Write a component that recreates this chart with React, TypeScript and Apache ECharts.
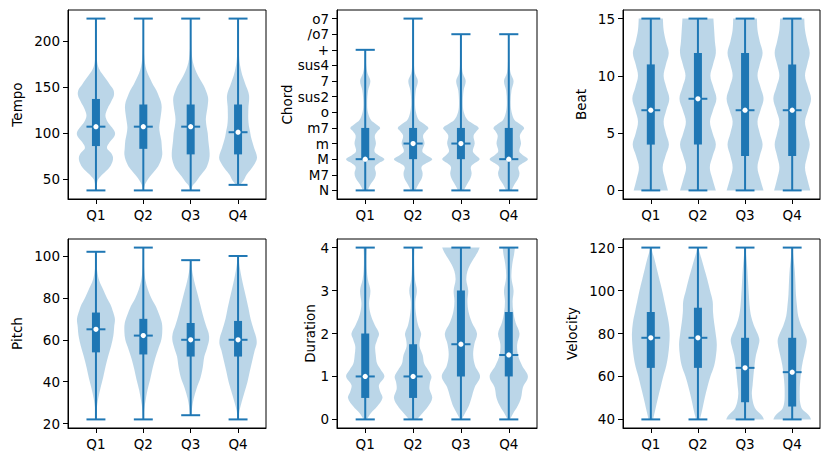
import React, { useEffect, useRef } from "react";
import * as echarts from "echarts";

const quarters = ["Q1", "Q2", "Q3", "Q4"];
const chordNames = ["N", "M7", "M", "m", "m7", "o", "sus2", "7", "sus4", "+", "/o7", "o7"];

// [min, q1, median, q3, max] per quarter
const tempoStats = [[38, 86, 107, 137, 224], [38, 83, 107, 131, 224], [38, 77, 107, 131, 224], [44, 77, 101, 131, 224]];
const chordStats = [[0, 2, 2, 4, 9], [0, 2, 3, 4, 11], [0, 2, 3, 4, 10], [0, 2, 2, 4, 10]];
const beatStats = [[0, 4, 7, 11, 15], [0, 4, 8, 12, 15], [0, 3, 7, 12, 15], [0, 3, 7, 11, 15]];
const pitchStats = [[22, 54, 65, 73, 102], [22, 53, 62, 70, 104], [24, 52, 60, 68, 98], [22, 52, 60, 69, 100]];
const durationStats = [[0, 0.5, 1, 2, 4], [0, 0.5, 1, 1.75, 4], [0, 1, 1.75, 3, 4], [0, 1, 1.5, 2.5, 4]];
const velocityStats = [[40, 64, 78, 90, 120], [40, 64, 78, 92, 120], [40, 48, 64, 78, 120], [40, 46, 62, 78, 120]];

// violin profiles: [value, relative half width]
const tempoProfiles = [
  [[38, 0.01], [45, 0.05], [50, 0.12], [56, 0.38], [62, 0.68], [68, 0.85], [74, 0.9], [79, 0.78], [84, 0.58], [90, 0.72], [97, 0.98], [101, 1.0], [106, 0.85], [112, 0.62], [119, 0.5], [127, 0.62], [134, 0.8], [141, 0.95], [147, 0.92], [153, 0.72], [158, 0.55], [165, 0.3], [172, 0.12], [180, 0.05], [195, 0.02], [224, 0.01]],
  [[38, 0.01], [44, 0.08], [48, 0.18], [53, 0.35], [58, 0.55], [64, 0.78], [70, 0.92], [77, 1.0], [84, 0.98], [92, 0.95], [99, 0.88], [106, 0.84], [113, 0.88], [120, 0.93], [128, 0.97], [134, 0.93], [140, 0.82], [146, 0.7], [152, 0.52], [158, 0.38], [165, 0.22], [172, 0.12], [180, 0.06], [195, 0.02], [224, 0.01]],
  [[38, 0.01], [43, 0.1], [47, 0.27], [51, 0.4], [55, 0.55], [60, 0.75], [65, 0.88], [72, 0.98], [78, 1.0], [85, 0.97], [92, 0.93], [100, 0.9], [107, 0.84], [115, 0.8], [122, 0.84], [130, 0.9], [138, 0.92], [145, 0.82], [151, 0.7], [158, 0.5], [166, 0.3], [173, 0.17], [180, 0.09], [190, 0.04], [205, 0.02], [224, 0.01]],
  [[44, 0.1], [47, 0.23], [51, 0.35], [55, 0.45], [60, 0.65], [65, 0.82], [70, 0.96], [74, 1.0], [79, 0.94], [84, 0.85], [90, 0.76], [96, 0.68], [102, 0.63], [108, 0.57], [115, 0.54], [122, 0.54], [129, 0.55], [135, 0.58], [141, 0.58], [146, 0.52], [151, 0.42], [157, 0.32], [163, 0.22], [170, 0.14], [177, 0.08], [190, 0.04], [224, 0.01]],
];
const chordProfiles = [
  [[0, 0.12], [0.4, 0.28], [0.8, 0.5], [1.1, 0.56], [1.5, 0.5], [1.75, 0.72], [2, 1.0], [2.25, 0.7], [2.5, 0.48], [3, 0.56], [3.5, 0.5], [3.8, 0.65], [4, 0.78], [4.25, 0.55], [4.5, 0.3], [5, 0.14], [5.6, 0.1], [6.4, 0.15], [7, 0.27], [7.5, 0.12], [8, 0.05], [8.5, 0.03], [9, 0.02]],
  [[0, 0.12], [0.4, 0.28], [0.8, 0.46], [1.1, 0.5], [1.5, 0.44], [1.75, 0.7], [2, 1.0], [2.25, 0.7], [2.5, 0.48], [3, 0.6], [3.5, 0.52], [3.8, 0.68], [4, 0.8], [4.25, 0.58], [4.5, 0.3], [5, 0.15], [5.6, 0.1], [6.4, 0.14], [7, 0.25], [7.5, 0.1], [8, 0.05], [9, 0.03], [10, 0.02], [11, 0.01]],
  [[0, 0.15], [0.4, 0.32], [0.8, 0.5], [1.1, 0.56], [1.5, 0.52], [1.75, 0.72], [2, 0.98], [2.25, 0.78], [2.5, 0.62], [3, 0.72], [3.5, 0.66], [3.8, 0.82], [4, 0.93], [4.25, 0.65], [4.5, 0.35], [5, 0.15], [5.6, 0.1], [6.4, 0.14], [7, 0.25], [7.5, 0.1], [8, 0.05], [9, 0.03], [10, 0.02]],
  [[0, 0.14], [0.4, 0.3], [0.8, 0.5], [1.1, 0.56], [1.5, 0.5], [1.75, 0.74], [2, 1.0], [2.25, 0.74], [2.5, 0.55], [3, 0.64], [3.5, 0.58], [3.8, 0.7], [4, 0.8], [4.25, 0.58], [4.5, 0.3], [5, 0.15], [5.6, 0.1], [6.4, 0.14], [7, 0.25], [7.5, 0.1], [8, 0.05], [9, 0.03], [10, 0.02]],
];
const beatProfiles = [
  [[0, 0.91], [1, 0.75], [2, 0.63], [3, 0.78], [4, 0.96], [5, 0.8], [6, 0.68], [7, 0.82], [8, 0.98], [9, 0.82], [10, 0.68], [11, 0.8], [12, 0.95], [13, 0.8], [14, 0.68], [15, 0.64]],
  [[0, 0.95], [1, 0.77], [2, 0.63], [3, 0.78], [4, 0.95], [5, 0.78], [6, 0.64], [7, 0.8], [8, 0.98], [9, 0.82], [10, 0.66], [11, 0.8], [12, 0.95], [13, 0.9], [14, 0.86], [15, 0.82]],
  [[0, 0.98], [1, 0.8], [2, 0.66], [3, 0.78], [4, 0.93], [5, 0.78], [6, 0.66], [7, 0.82], [8, 0.98], [9, 0.82], [10, 0.66], [11, 0.78], [12, 0.93], [13, 0.78], [14, 0.66], [15, 0.63]],
  [[0, 0.96], [1, 0.8], [2, 0.68], [3, 0.8], [4, 0.93], [5, 0.8], [6, 0.68], [7, 0.84], [8, 1.0], [9, 0.84], [10, 0.68], [11, 0.8], [12, 0.93], [13, 0.8], [14, 0.68], [15, 0.64]],
];
const pitchProfiles = [
  [[22, 0.01], [27, 0.04], [32, 0.12], [37, 0.24], [42, 0.38], [47, 0.5], [52, 0.64], [57, 0.8], [62, 0.92], [66, 0.96], [70, 1.0], [74, 0.88], [77, 0.76], [80, 0.58], [84, 0.38], [88, 0.18], [92, 0.08], [96, 0.03], [102, 0.01]],
  [[22, 0.01], [27, 0.05], [31, 0.12], [36, 0.22], [41, 0.36], [46, 0.48], [51, 0.62], [56, 0.8], [60, 0.95], [64, 1.0], [68, 0.98], [72, 0.84], [76, 0.66], [80, 0.42], [84, 0.24], [88, 0.12], [93, 0.05], [98, 0.02], [104, 0.01]],
  [[24, 0.03], [28, 0.08], [32, 0.16], [37, 0.32], [42, 0.52], [47, 0.64], [52, 0.72], [56, 0.86], [60, 0.97], [63, 0.95], [67, 0.8], [72, 0.64], [77, 0.5], [82, 0.36], [86, 0.24], [90, 0.14], [94, 0.06], [98, 0.02]],
  [[22, 0.02], [26, 0.07], [30, 0.18], [35, 0.34], [40, 0.5], [45, 0.62], [50, 0.75], [55, 0.88], [58, 0.98], [61, 0.96], [65, 0.82], [70, 0.66], [75, 0.55], [80, 0.43], [85, 0.3], [90, 0.18], [94, 0.1], [97, 0.05], [100, 0.02]],
];
const durationProfiles = [
  [[0, 0.08], [0.15, 0.3], [0.3, 0.62], [0.5, 0.9], [0.65, 0.78], [0.8, 0.72], [1.0, 1.0], [1.15, 0.82], [1.3, 0.62], [1.5, 0.55], [1.7, 0.52], [1.85, 0.62], [2.0, 0.72], [2.2, 0.5], [2.45, 0.28], [2.7, 0.2], [3.0, 0.27], [3.25, 0.14], [3.5, 0.08], [3.8, 0.07], [4.0, 0.09]],
  [[0, 0.2], [0.15, 0.5], [0.3, 0.78], [0.5, 1.0], [0.7, 0.86], [0.85, 0.88], [1.0, 0.96], [1.15, 0.78], [1.3, 0.58], [1.5, 0.5], [1.7, 0.34], [1.85, 0.36], [2.0, 0.42], [2.2, 0.26], [2.5, 0.14], [2.75, 0.12], [3.0, 0.2], [3.25, 0.1], [3.5, 0.06], [3.8, 0.05], [4.0, 0.07]],
  [[0, 0.04], [0.15, 0.22], [0.3, 0.4], [0.5, 0.55], [0.75, 0.72], [1.0, 1.0], [1.25, 0.74], [1.5, 0.64], [1.75, 0.7], [2.0, 0.84], [2.25, 0.58], [2.5, 0.4], [2.75, 0.34], [3.0, 0.38], [3.25, 0.28], [3.45, 0.34], [3.6, 0.48], [3.75, 0.68], [3.9, 0.88], [4.0, 0.98]],
  [[0, 0.06], [0.15, 0.24], [0.3, 0.45], [0.5, 0.64], [0.75, 0.74], [1.0, 1.0], [1.25, 0.7], [1.5, 0.48], [1.75, 0.44], [2.0, 0.56], [2.25, 0.36], [2.5, 0.24], [2.75, 0.2], [3.0, 0.25], [3.3, 0.14], [3.6, 0.18], [3.85, 0.28], [4.0, 0.32]],
];
const velocityProfiles = [
  [[40, 0.12], [45, 0.25], [50, 0.38], [55, 0.52], [60, 0.66], [65, 0.82], [70, 0.92], [75, 0.98], [80, 1.0], [85, 0.95], [90, 0.84], [95, 0.72], [100, 0.6], [105, 0.46], [110, 0.32], [115, 0.18], [118, 0.08], [120, 0.03]],
  [[40, 0.1], [45, 0.24], [50, 0.36], [55, 0.5], [60, 0.66], [65, 0.86], [70, 0.96], [75, 1.0], [80, 0.94], [85, 0.86], [90, 0.8], [95, 0.78], [100, 0.64], [105, 0.5], [110, 0.34], [115, 0.18], [118, 0.08], [120, 0.03]],
  [[40, 1.0], [41.5, 0.92], [43, 0.76], [45, 0.55], [48, 0.42], [52, 0.36], [56, 0.4], [60, 0.44], [65, 0.5], [70, 0.58], [74, 0.7], [77, 0.76], [80, 0.66], [84, 0.46], [88, 0.32], [93, 0.24], [98, 0.2], [104, 0.16], [110, 0.12], [115, 0.07], [120, 0.02]],
  [[40, 1.0], [41.5, 0.92], [43, 0.76], [45, 0.52], [48, 0.42], [52, 0.4], [56, 0.41], [60, 0.45], [65, 0.52], [70, 0.64], [74, 0.74], [77, 0.77], [80, 0.66], [84, 0.46], [88, 0.32], [93, 0.25], [98, 0.2], [104, 0.17], [110, 0.13], [115, 0.07], [120, 0.02]],
];

// tick values
const tempoTicks = [50, 100, 150, 200];
const chordTicks = [0, 1, 2, 3, 4, 5, 6, 7, 8, 9, 10, 11];
const beatTicks = [0, 5, 10, 15];
const pitchTicks = [20, 40, 60, 80, 100];
const durationTicks = [0, 1, 2, 3, 4];
const velocityTicks = [40, 60, 80, 100, 120];
const quarterTicks = [1, 2, 3, 4];

const C0 = "#1f77b4";
const FILL = "rgba(31,119,180,0.3)";
const FONT = "DejaVu Sans";
const FS = 13.5;
const HALF = 0.4;
const CAP = 0.2;

const panels = [
  { name: "Tempo", stats: tempoStats, profiles: tempoProfiles, ticks: tempoTicks, min: 28.7, max: 233.3, gap: 44.5, grid: { left: 68, top: 10, width: 198, height: 189 } },
  { name: "Chord", stats: chordStats, profiles: chordProfiles, ticks: chordTicks, min: -0.55, max: 11.55, gap: 41.5, labels: chordNames, grid: { left: 337, top: 10, width: 200, height: 189 } },
  { name: "Beat", stats: beatStats, profiles: beatProfiles, ticks: beatTicks, min: -0.75, max: 15.75, gap: 35, grid: { left: 623, top: 10, width: 197, height: 189 } },
  { name: "Pitch", stats: pitchStats, profiles: pitchProfiles, ticks: pitchTicks, min: 17.9, max: 108.1, gap: 44.5, grid: { left: 68, top: 239, width: 198, height: 189 } },
  { name: "Duration", stats: durationStats, profiles: durationProfiles, ticks: durationTicks, min: -0.2, max: 4.2, gap: 17.5, grid: { left: 337, top: 239, width: 200, height: 189 } },
  { name: "Velocity", stats: velocityStats, profiles: velocityProfiles, ticks: velocityTicks, min: 36, max: 124, gap: 43.7, grid: { left: 623, top: 239, width: 197, height: 189 } },
];

function makeRender(profiles: number[][][]) {
  return (params: any, api: any) => {
    const i = params.dataIndex;
    const x = api.value(0);
    const mn = api.value(1), q1 = api.value(2), md = api.value(3), q3 = api.value(4), mx = api.value(5);
    const prof = profiles[i];
    const right = prof.map(([v, w]) => api.coord([x + w * HALF, v]));
    const left = prof.map(([v, w]) => api.coord([x - w * HALF, v])).reverse();
    const pts = [right[0], ...right, right[right.length - 1], left[0], ...left, left[left.length - 1]];
    const pMin = api.coord([x, mn]);
    const pMax = api.coord([x, mx]);
    const pQ1 = api.coord([x, q1]);
    const pQ3 = api.coord([x, q3]);
    const pMd = api.coord([x, md]);
    const capL = api.coord([x - CAP, mn]);
    const capR = api.coord([x + CAP, mn]);
    const capTL = api.coord([x - CAP, mx]);
    const capTR = api.coord([x + CAP, mx]);
    const mdL = api.coord([x - CAP, md]);
    const mdR = api.coord([x + CAP, md]);
    const line = (a: number[], b: number[], w: number) => ({
      type: "line",
      shape: { x1: a[0], y1: a[1], x2: b[0], y2: b[1] },
      style: { stroke: C0, lineWidth: w, lineCap: "butt" },
    });
    return {
      type: "group",
      children: [
        { type: "polygon", shape: { points: pts, smooth: 0.35 }, style: { fill: FILL } },
        line(pMin, pMax, 2),
        line(capL, capR, 2),
        line(capTL, capTR, 2),
        line(pQ1, pQ3, 8),
        line(mdL, mdR, 2),
        { type: "circle", shape: { cx: pMd[0], cy: pMd[1], r: 2.6 }, style: { fill: "#fff" } },
      ],
    };
  };
}

export default function App() {
  const ref = useRef<HTMLDivElement>(null);
  useEffect(() => {
    document.body.style.margin = "0";
    const chart = echarts.init(ref.current!, null, { renderer: "svg" });
    const textStyle = { color: "#000", fontFamily: FONT, fontSize: FS };
    const option: any = {
      animation: false,
      backgroundColor: "#fff",
      grid: panels.map((p) => ({ ...p.grid, show: true, borderColor: "#000", borderWidth: 1, backgroundColor: "transparent" })),
      xAxis: panels.map((p, k) => ({
        gridIndex: k,
        type: "value",
        min: 0.41,
        max: 4.59,
        splitLine: { show: false },
        axisLine: { show: true, onZero: false, lineStyle: { color: "#000", width: 1 } },
        axisTick: { show: true, customValues: quarterTicks, length: 5, lineStyle: { color: "#000", width: 1 } },
        axisLabel: { ...textStyle, customValues: quarterTicks, margin: 9, formatter: (v: number) => quarters[Math.round(v) - 1] },
      })),
      yAxis: panels.map((p, k) => ({
        gridIndex: k,
        type: "value",
        min: p.min,
        max: p.max,
        name: p.name,
        nameLocation: "middle",
        nameGap: p.gap,
        nameTextStyle: { ...textStyle },
        splitLine: { show: false },
        axisLine: { show: true, onZero: false, lineStyle: { color: "#000", width: 1 } },
        axisTick: { show: true, customValues: p.ticks, length: 5, lineStyle: { color: "#000", width: 1 } },
        axisLabel: {
          ...textStyle,
          customValues: p.ticks,
          margin: 8,
          formatter: (v: number) => (p.labels ? p.labels[Math.round(v)] : String(v)),
        },
      })),
      series: panels.map((p, k) => ({
        type: "custom",
        xAxisIndex: k,
        yAxisIndex: k,
        renderItem: makeRender(p.profiles),
        encode: { x: 0, y: [1, 2, 3, 4, 5] },
        data: p.stats.map((s, i) => [quarterTicks[i], ...s]),
      })),
    };
    chart.setOption(option);
    return () => chart.dispose();
  }, []);
  return <div ref={ref} style={{ position: "fixed", left: 0, top: 0, width: 831, height: 463 }} />;
}
